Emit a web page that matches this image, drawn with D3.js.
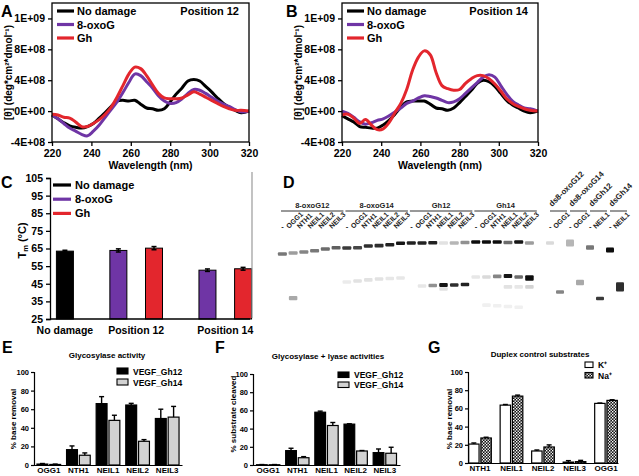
<!DOCTYPE html>
<html><head><meta charset="utf-8">
<script src="https://cdn.jsdelivr.net/npm/d3@7"></script>
<style>body{margin:0;background:#fff}svg{display:block}text{font-family:"Liberation Sans",Arial,sans-serif}</style>
</head><body><svg id="c" width="639" height="476"></svg>
<script>
// ---------- DATA ----------
// CD spectra (ellipticity in units of 1E+08)
const wavelengths = [220,223,226,229,232,235,238,241,244,247,250,253,256,259,262,265,268,271,274,277,280,283,286,289,292,295,298,301,304,307,310,313,316,320];
const cdSeriesNames = ["No damage","8-oxoG","Gh"];
const cd12NoDamage = [-0.5,-1.0,-1.5,-1.9,-2.1,-2.2,-2.0,-1.6,-0.9,-0.2,0.6,1.3,1.4,1.3,1.4,0.9,0.4,0.3,0.1,0.3,1.2,2.2,3.0,3.9,4.1,3.9,3.2,2.5,1.7,1.0,0.5,0.1,-0.2,0];
const cd12OxoG    = [-0.5,-1.0,-1.6,-2.2,-2.6,-3.0,-3.2,-2.6,-1.8,-0.8,0.2,1.2,2.4,3.7,4.8,4.6,3.8,3.0,2.0,1.3,1.0,1.1,1.6,2.3,2.8,2.7,2.3,1.8,1.3,0.9,0.6,0.2,-0.1,0];
const cd12Gh      = [-0.4,-0.5,-0.8,-0.9,-1.4,-2.0,-2.0,-1.6,-1.1,-0.4,0.5,1.8,3.3,4.8,5.7,5.5,4.6,3.4,2.3,1.7,1.6,1.6,1.7,2.1,2.5,2.2,1.8,1.4,1.0,0.6,0.3,0.1,0.1,0];
const cd14NoDamage = [-0.6,-1.0,-1.4,-2.0,-2.1,-2.2,-2.2,-1.8,-1.2,-0.4,0.5,1.2,1.3,1.3,1.3,0.9,0.4,0.3,0.1,0.4,1.1,1.9,2.7,3.6,4.0,3.8,3.2,2.3,1.4,0.8,0.4,0.0,-0.2,0];
const cd14OxoG    = [0.0,-0.3,-0.8,-1.4,-1.7,-1.5,-1.2,-1.0,-0.6,-0.1,0.4,1.0,1.3,1.7,2.0,1.9,1.7,1.4,1.1,1.2,1.6,2.3,3.0,3.7,4.4,4.7,4.4,3.3,2.2,1.3,0.8,0.4,0.3,0];
const cd14Gh      = [-0.5,-0.4,-0.9,-1.6,-1.1,-1.8,-2.4,-2.3,-1.5,-0.2,1.0,2.8,5.3,7.0,7.8,7.3,5.0,3.3,2.9,2.7,2.8,3.6,4.2,4.6,4.6,4.2,3.5,2.6,1.6,1.0,0.6,0.3,0.1,0];
const cdTickValues = [1.2e9, 8e8, 4e8, 0, -4e8];
const cdTickLabels = ["1E+09","8E+08","4E+08","0E+00","-4E+08"];
const cdXTicks = [220,240,260,280,300,320];

// Tm
const tmCategories = ["No damage","Position 12","Position 14"];
const tmSeries = ["No damage","8-oxoG","Gh"];
const tmBars = [["No damage","No damage"],["Position 12","8-oxoG"],["Position 12","Gh"],["Position 14","8-oxoG"],["Position 14","Gh"]];
const tmValues = [63.5, 63.9, 65.2, 52.7, 53.5];
const tmErrors = [0.5, 0.9, 0.9, 0.7, 0.8];
const tmTicks = [25,35,45,55,65,75,85,95,105];

// Gel (D)
const gelGroups = ["8-oxoG12","8-oxoG14","Gh12","Gh14"];
const gelLaneLabels = ["-","OGG1","NTH1","NEIL1","NEIL2","NEIL3"];
// substrate band: migration (0 = top) and intensity (0..1) per lane
const gelTopMigration = [20,18.6,17.1,15.3,12.9,11, 11.4,11,8.6,8.1,6.7,4.7, 4.3,4.3,3.9,4.3,4.3,3.6, 2.9,2.9,2.9,3.6,2.9,4.3];
const gelTopIntensity = [0.55,0.4,0.5,0.55,0.6,0.65, 0.8,0.75,0.85,0.85,0.9,0.95, 0.9,0.9,0.9,0.12,0.3,0.45, 1,1,1,0.6,0.95,0.4];
// product bands: [lane, migration, intensity, thickness]
const gelProducts = [
  [1,83,0.35,1.2],
  [6,60,0.08,1],[7,58.6,0.12,1],[8,57,0.12,1],[9,55.7,0.12,1],[10,55,0.1,1],[11,54.3,0.1,1],
  [13,65.7,0.1,1],[14,65,0.45,1],[15,64.3,0.95,1.1],[16,64.3,0.85,1],[17,63.6,0.9,1],[15,70,0.12,1],
  [18,52.9,0.1,1],[19,52.9,0.15,1],[20,52,0.5,1],[21,51.4,0.95,1.1],[22,52.9,0.6,1],[23,54.3,1,1.5],
  [21,67,0.12,1],[22,67,0.1,1],[23,67,0.18,1],
  [19,93,0.06,1],[20,94,0.06,1],[21,95,0.06,1],[22,96,0.06,1]
];
const dsGroups = ["ds8-oxoG12","ds8-oxoG14","dsGh12","dsGh14"];
const dsLaneLabels = ["-","OGG1","-","OGG1","-","NEIL1","-","NEIL1"];
const dsBands = [
  [0,4.3,0.15,1],[1,74.3,0.5,1],[2,4.3,0.3,2],[3,60.7,0.35,1.5],
  [4,10.7,0.55,1.2],[5,83.6,0.8,1],[6,14.3,1,1.4],[7,67,0.85,2.6]
];

// E
const eCats = ["OGG1","NTH1","NEIL1","NEIL2","NEIL3"];
const eSeries = ["VEGF_Gh12","VEGF_Gh14"];
const eGh12 = [1, 16.5, 66, 64.5, 50];
const eGh12Err = [0.6, 4, 7.5, 1.8, 10];
const eGh14 = [0.6, 10.5, 48, 25.5, 51.5];
const eGh14Err = [0.4, 2.5, 5.5, 1.8, 11.5];
// F
const fCats = ["OGG1","NTH1","NEIL1","NEIL2","NEIL3"];
const fGh12 = [0.3, 15.8, 58, 44.9, 13.6];
const fGh12Err = [0.2, 2.6, 1.2, 0.4, 4];
const fGh14 = [0.3, 8, 43.4, 15.4, 12.9];
const fGh14Err = [0.2, 1.2, 3.3, 0.5, 6.6];
// G
const gCats = ["NTH1","NEIL1","NEIL2","NEIL3","OGG1"];
const gSeries = ["K\u207A","Na\u207A"];
const gK = [20.8, 63.6, 13.2, 1, 65.5];
const gKErr = [1.2, 0.7, 1.1, 1.6, 0.4];
const gNa = [27.5, 73.5, 17.6, 1.5, 68.8];
const gNaErr = [0.8, 1.1, 2.3, 1.4, 0.7];
const pctTicks = [0,20,40,60,80,100];

// ---------- DRAW ----------
const svg = d3.select("#c");
const F = '"Liberation Sans",Arial,sans-serif';
const cdColors = ["#000000","#6f35a5","#e3262d"];

const defs = svg.append("defs");
defs.append("filter").attr("id","blur").attr("x","-50%").attr("y","-100%").attr("width","200%").attr("height","300%")
  .append("feGaussianBlur").attr("stdDeviation","0.7");
const pat = defs.append("pattern").attr("id","checker").attr("width",3).attr("height",3).attr("patternUnits","userSpaceOnUse");
pat.append("rect").attr("width",3).attr("height",3).attr("fill","#111");
pat.append("rect").attr("x",0).attr("y",0).attr("width",1.4).attr("height",1.4).attr("fill","#fff");
pat.append("rect").attr("x",1.5).attr("y",1.5).attr("width",1.4).attr("height",1.4).attr("fill","#fff");

function letter(t,x,y){
  svg.append("text").attr("x",x).attr("y",y).attr("font-size",16).attr("font-weight","bold").text(t);
}

function cdPanel(L, R, T, B, data, pos, let, letX, ytX){
  const x = d3.scaleLinear().domain([220,320]).range([L,R]);
  const y = d3.scaleLinear().domain([-4e8,1.4e9]).range([B,T]);
  const g = svg.append("g");
  const line = d3.line().x((d,i)=>x(wavelengths[i])).y(d=>y(d*1e8)).curve(d3.curveCatmullRom.alpha(0.5));
  data.forEach((s,i)=>{
    g.append("path").attr("d",line(s)).attr("fill","none").attr("stroke",cdColors[i])
     .attr("stroke-width",3).attr("stroke-linejoin","round");
  });
  g.append("rect").attr("x",L).attr("y",T).attr("width",R-L).attr("height",B-T)
   .attr("fill","none").attr("stroke","#000").attr("stroke-width",1.3);
  const ya = g.append("g").attr("transform",`translate(${L},0)`)
    .call(d3.axisLeft(y).tickValues(cdTickValues).tickFormat((d,i)=>cdTickLabels[i]).tickSize(4).tickPadding(3));
  const xa = g.append("g").attr("transform",`translate(0,${B})`)
    .call(d3.axisBottom(x).tickValues(cdXTicks).tickSize(4).tickPadding(4));
  [ya,xa].forEach(a=>{
    a.select(".domain").remove();
    a.selectAll("line").attr("stroke","#000").attr("stroke-width",1.3);
    a.selectAll("text").attr("font-family",F).attr("font-size",10.5).attr("font-weight","bold").attr("fill","#000");
  });
  // legend
  cdSeriesNames.forEach((n,i)=>{
    const yy = T + 8 + i*13.5;
    g.append("line").attr("x1",L+5).attr("x2",L+22).attr("y1",yy).attr("y2",yy)
     .attr("stroke",cdColors[i]).attr("stroke-width",3.2);
    g.append("text").attr("x",L+25).attr("y",yy+4).attr("font-size",11).attr("font-weight","bold").text(n);
  });
  g.append("text").attr("x",R-10).attr("y",T+12).attr("text-anchor","end").attr("font-size",11)
   .attr("font-weight","bold").text(pos);
  g.append("text").attr("x",(L+R)/2).attr("y",B+27).attr("text-anchor","middle").attr("font-size",10.5)
   .attr("font-weight","bold").text("Wavelength (nm)");
  g.append("text").attr("transform",`translate(${ytX},${(T+B)/2}) rotate(-90)`).attr("text-anchor","middle")
   .attr("font-size",10).attr("font-weight","bold").text("[\u03B8] (deg*cm\u00B2*dmol\u207B\u00B9)");
  letter(let, letX, 17);
}
cdPanel(52, 249, 3, 142, [cd12NoDamage, cd12OxoG, cd12Gh], "Position 12", "A", 1, 12);
cdPanel(342, 538, 3, 142, [cd14NoDamage, cd14OxoG, cd14Gh], "Position 14", "B", 286, 302);

// ---------- C ----------
(function(){
  const L=50, R=250, T=178, B=319;
  const y = d3.scaleLinear().domain([25,105]).range([B,T]);
  const slots = d3.range(11);
  const x = d3.scaleBand().domain(slots).range([56,252]);
  const barSlot = [0,3,5,8,10];          // layout: slot of each bar
  const catSlot = [0,4,9];               // layout: label slot of each category
  const g = svg.append("g");
  const bw = 17;
  tmBars.forEach((b,i)=>{
    const cx = x(barSlot[i]) + x.bandwidth()/2;
    const col = cdColors[tmSeries.indexOf(b[1])];
    g.append("rect").attr("x",cx-bw/2).attr("y",y(tmValues[i])).attr("width",bw).attr("height",B-y(tmValues[i]))
      .attr("fill",col).attr("stroke","#000").attr("stroke-width",1);
    const e1=y(tmValues[i]+tmErrors[i]), e2=y(tmValues[i]-tmErrors[i]);
    g.append("line").attr("x1",cx).attr("x2",cx).attr("y1",e1).attr("y2",e2).attr("stroke","#000").attr("stroke-width",1.5);
    [e1,e2].forEach(v=>g.append("line").attr("x1",cx-2.5).attr("x2",cx+2.5).attr("y1",v).attr("y2",v).attr("stroke","#000").attr("stroke-width",1.5));
  });
  const ya = g.append("g").attr("transform",`translate(${L},0)`)
    .call(d3.axisLeft(y).tickValues(tmTicks).tickFormat(d3.format("d")).tickSize(4).tickPadding(3));
  ya.select(".domain").attr("stroke","#000").attr("stroke-width",1.3);
  ya.selectAll("line").attr("stroke-width",1.3);
  ya.selectAll("text").attr("font-family",F).attr("font-size",10.5).attr("font-weight","bold");
  g.append("line").attr("x1",L).attr("x2",R).attr("y1",B).attr("y2",B).attr("stroke","#000").attr("stroke-width",1.3);
  tmCategories.forEach((c,i)=>{
    const cx = x(catSlot[i]) + x.bandwidth()/2;
    g.append("text").attr("x",cx).attr("y",B+14.5).attr("text-anchor","middle").attr("font-size",10.5)
      .attr("font-weight","bold").text(c);
  });
  tmSeries.forEach((n,i)=>{
    const yy = 185 + i*14.2;
    g.append("line").attr("x1",53).attr("x2",71).attr("y1",yy).attr("y2",yy).attr("stroke",cdColors[i]).attr("stroke-width",3.2);
    g.append("text").attr("x",75).attr("y",yy+4).attr("font-size",11).attr("font-weight","bold").text(n);
  });
  const yt = g.append("text").attr("transform",`translate(26,${(T+B)/2-8}) rotate(-90)`).attr("text-anchor","middle")
    .attr("font-size",11).attr("font-weight","bold");
  yt.append("tspan").text("T");
  yt.append("tspan").attr("font-size",7.5).attr("dy",2).text("m");
  yt.append("tspan").attr("dy",-2).text(" (\u00B0C)");
  letter("C", 1, 188);
})();

// ---------- D (gel) ----------
(function(){
  const g = svg.append("g");
  g.append("line").attr("x1",252).attr("x2",252).attr("y1",172).attr("y2",318).attr("stroke","#9a9a9a").attr("stroke-width",1.2);
  letter("D", 283, 188);
  const laneIds = d3.range(gelGroups.length*gelLaneLabels.length);
  const xl = d3.scaleBand().domain(laneIds).range([277, 534.8]);
  const xd = d3.scaleBand().domain(d3.range(dsLaneLabels.length)).range([545, 625]);
  const ym = d3.scaleLinear().domain([0,100]).range([240,310]);
  const gray = d3.scaleLinear().domain([0,1]).range(["#ffffff","#0a0a0a"]);
  const band = (cx, m, inten, th, w) => {
    g.append("rect").attr("x",cx-w/2).attr("y",ym(m)-1.8*th).attr("width",w).attr("height",3.6*th)
      .attr("rx",1).attr("fill",gray(inten)).attr("filter","url(#blur)");
  };
  // group headers
  gelGroups.forEach((gr,i)=>{
    const a = xl(i*6)+4, b = xl(i*6+5)+xl.bandwidth()+2;
    g.append("line").attr("x1",a).attr("x2",b).attr("y1",211).attr("y2",211).attr("stroke","#333").attr("stroke-width",1);
    g.append("text").attr("x",(a+b)/2).attr("y",207.5).attr("text-anchor","middle").attr("font-size",7.5)
      .attr("font-weight","bold").attr("fill","#222").text(gr);
  });
  laneIds.forEach(i=>{
    const lab = gelLaneLabels[i%6], cx = xl(i)+xl.bandwidth()/2;
    if(lab==="-"){
      g.append("text").attr("x",cx-1).attr("y",229).attr("font-size",7.5).attr("font-weight","bold").attr("fill","#222").text("-");
    } else {
      g.append("text").attr("transform",`translate(${cx-4},229) rotate(-45)`).attr("font-size",7)
        .attr("font-weight","bold").attr("fill","#222").text(lab);
    }
    band(cx, gelTopMigration[i], gelTopIntensity[i], 1, 9);
  });
  gelProducts.forEach(p=>band(xl(p[0])+xl.bandwidth()/2, p[1], p[2], p[3], 8.5));
  // ds lanes
  dsGroups.forEach((gr,i)=>{
    const a = xd(i*2)+5, b = xd(i*2+1)+xd.bandwidth()+2;
    g.append("line").attr("x1",a).attr("x2",b).attr("y1",211).attr("y2",211).attr("stroke","#333").attr("stroke-width",1);
    g.append("text").attr("transform",`translate(${a+2},207) rotate(-45)`).attr("font-size",8)
      .attr("font-weight","bold").attr("fill","#222").text(gr);
  });
  dsLaneLabels.forEach((lab,i)=>{
    const cx = xd(i)+xd.bandwidth()/2;
    if(lab==="-"){
      g.append("text").attr("x",cx-1).attr("y",229).attr("font-size",7.5).attr("font-weight","bold").attr("fill","#222").text("-");
    } else {
      g.append("text").attr("transform",`translate(${cx-4},229) rotate(-45)`).attr("font-size",7)
        .attr("font-weight","bold").attr("fill","#222").text(lab);
    }
  });
  dsBands.forEach(p=>band(xd(p[0])+xd.bandwidth()/2, p[1], p[2], p[3], 8));
})();

// ---------- E, F, G ----------
function barPanel(o){
  const g = svg.append("g");
  const y = d3.scaleLinear().domain([0,100]).range([o.B,o.T]);
  const x = d3.scaleBand().domain(o.cats).range([o.L,o.R]).paddingInner(o.pi).paddingOuter(o.po);
  const xs = d3.scaleBand().domain([0,1]).range([0,x.bandwidth()]).paddingInner(0.15);
  o.vals.forEach((vals,s)=>{
    vals.forEach((v,i)=>{
      const bx = x(o.cats[i])+xs(s), w = xs.bandwidth();
      g.append("rect").attr("x",bx).attr("y",y(v)).attr("width",w).attr("height",o.B-y(v))
        .attr("fill",o.fills[s]).attr("stroke","#000").attr("stroke-width",1.2);
      const cx = bx+w/2, ey = y(v+o.errs[s][i]);
      g.append("line").attr("x1",cx).attr("x2",cx).attr("y1",y(v)).attr("y2",ey).attr("stroke","#000").attr("stroke-width",1.4);
      g.append("line").attr("x1",cx-2.5).attr("x2",cx+2.5).attr("y1",ey).attr("y2",ey).attr("stroke","#000").attr("stroke-width",1.4);
    });
  });
  const ya = g.append("g").attr("transform",`translate(${o.L},0)`)
    .call(d3.axisLeft(y).tickValues(pctTicks).tickSize(3).tickPadding(2));
  ya.select(".domain").attr("stroke","#000").attr("stroke-width",1.2);
  ya.selectAll("line").attr("stroke-width",1.2);
  ya.selectAll("text").attr("font-family",F).attr("font-size",7.5).attr("font-weight","bold");
  const xa = g.append("g").attr("transform",`translate(0,${o.B})`)
    .call(d3.axisBottom(x).tickSize(0).tickPadding(2.5).tickSizeOuter(0));
  xa.select(".domain").attr("stroke","#000").attr("stroke-width",1.2);
  xa.selectAll("text").attr("font-family",F).attr("font-size",8).attr("font-weight","bold");
  g.append("text").attr("x",o.titleX).attr("y",o.titleY).attr("text-anchor","middle").attr("font-size",8)
    .attr("font-weight","bold").text(o.title);
  g.append("text").attr("transform",`translate(${o.ytX},${o.ytY}) rotate(-90)`).attr("text-anchor","middle")
    .attr("font-size",8).attr("font-weight","bold").text(o.ytitle);
  o.series.forEach((n,i)=>{
    const yy = o.legY + i*o.legDy;
    g.append("rect").attr("x",o.legX).attr("y",yy).attr("width",o.legW).attr("height",o.legH)
      .attr("fill",o.fills[i]).attr("stroke","#000").attr("stroke-width",1.1);
    g.append("text").attr("x",o.legX+o.legW+5).attr("y",yy+o.legH+0.5).attr("font-size",o.legFs).attr("font-weight","bold").text(n);
  });
  letter(o.letter, o.letX, 353);
}
barPanel({L:34,R:182,T:372,B:465,cats:eCats,pi:0.2,po:0.1,vals:[eGh12,eGh14],errs:[eGh12Err,eGh14Err],
  fills:["#000","#d2d2d2"],series:eSeries,title:"Glycosylase activity",titleX:107,titleY:358,
  ytitle:"% base removal",ytX:16,ytY:419,legX:117,legY:368,legDy:11,legW:11,legH:6,legFs:8.5,letter:"E",letX:2});
barPanel({L:253,R:400,T:374,B:465,cats:fCats,pi:0.2,po:0.12,vals:[fGh12,fGh14],errs:[fGh12Err,fGh14Err],
  fills:["#000","#d2d2d2"],series:eSeries,title:"Glycosylase + lyase activities",titleX:328,titleY:359,
  ytitle:"% substrate cleaved",ytX:236,ytY:414,legX:338,legY:372,legDy:10,legW:11,legH:5.5,legFs:8.5,letter:"F",letX:215});
barPanel({L:468,R:618,T:372,B:463,cats:gCats,pi:0.28,po:0.02,vals:[gK,gNa],errs:[gKErr,gNaErr],
  fills:["#fff","url(#checker)"],series:gSeries,title:"Duplex control substrates",titleX:540,titleY:357,
  ytitle:"% base removal",ytX:452,ytY:419,legX:585,legY:362,legDy:10.5,legW:8,legH:5.5,legFs:8.5,letter:"G",letX:428});
</script></body></html>
